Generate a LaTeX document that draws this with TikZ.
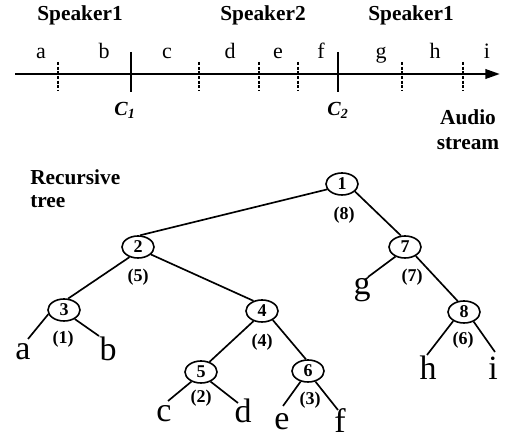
\documentclass[tikz,border=0pt]{standalone}
\usepackage{fontspec}
\setmainfont{Liberation Serif}
\usetikzlibrary{arrows.meta,shapes.geometric}
\begin{document}
\begin{tikzpicture}[x=0.75pt,y=-0.75pt,
  heading/.style={font=\fontsize{16}{19}\selectfont\bfseries, inner sep=0},
  seglabel/.style={font=\fontsize{16.5}{20}\selectfont, inner sep=0, anchor=base},
  cutlabel/.style={font=\fontsize{15}{18}\selectfont\bfseries\itshape, inner sep=0, anchor=base},
  leaf/.style={font=\fontsize{25.5}{30}\selectfont, inner sep=0, text depth=0pt, anchor=base},
  treenode/.style={ellipse, draw, line width=1.2pt, minimum width=24pt,
    minimum height=16.5pt, inner sep=0, font=\fontsize{13.5}{16}\selectfont\bfseries},
  count/.style={font=\fontsize{13.5}{16}\selectfont\bfseries, inner sep=0},
  edge/.style={line width=1.25pt},
  stream/.style={line width=2pt, -{Triangle[length=11pt,width=7pt]}},
  cut/.style={line width=2.2pt},
  boundary/.style={line width=1.5pt, dash pattern=on 2.2pt off 1.3pt}]
\useasboundingbox (0,0) rectangle (511,441);

% ---- audio stream ----
\node[heading, anchor=base] (spk1) at (80,21) {Speaker1};
\node[heading, anchor=base] (spk2) at (263,21) {Speaker2};
\node[heading, anchor=base] (spk3) at (411,21) {Speaker1};

\foreach \x/\t in {41/a,104/b,167/c,230/d,278/e,321/f,381/g,435/h,487/i}
  \node[seglabel] (seg\t) at (\x,59) {\t};

\coordinate (sstart) at (15,74);
\coordinate (send) at (500,74);
\draw[stream] (sstart) -- (send);

% segment boundaries
\foreach \x/\n in {58/1,199/2,259/3,298/4,402/5,463/6}{
  \coordinate (b\n top) at (\x,62);
  \coordinate (b\n bot) at (\x,91);
  \draw[boundary] (b\n top) -- (b\n bot);
}
% speaker change points
\foreach \x/\n in {131/1,338/2}{
  \coordinate (c\n top) at (\x,52);
  \coordinate (c\n bot) at (\x,92);
  \draw[cut] (c\n top) -- (c\n bot);
}
\node[cutlabel] (clab1) at (125,116) {C\textsubscript{1}};
\node[cutlabel] (clab2) at (338,116) {C\textsubscript{2}};

\node[heading, anchor=base] (aud1) at (468,125) {Audio};
\node[heading, anchor=base] (aud2) at (468,150) {stream};

% ---- recursive tree ----
\node[heading, anchor=base west] (rec1) at (30,185) {Recursive};
\node[heading, anchor=base west] (rec2) at (30,208) {tree};

\node[treenode] (n1) at (342,184) {1};
\node[treenode] (n2) at (138,247) {2};
\node[treenode] (n3) at (64,310) {3};
\node[treenode] (n4) at (262,311) {4};
\node[treenode] (n5) at (201,372) {5};
\node[treenode] (n6) at (308,371) {6};
\node[treenode] (n7) at (405,247) {7};
\node[treenode] (n8) at (464,312) {8};

\node[count] (k1) at (344,215) {(8)};
\node[count] (k2) at (138,277) {(5)};
\node[count] (k3) at (63,339) {(1)};
\node[count] (k4) at (262,342) {(4)};
\node[count] (k5) at (201,398) {(2)};
\node[count] (k6) at (310,400) {(3)};
\node[count] (k7) at (412,277) {(7)};
\node[count] (k8) at (463,340) {(6)};

\draw[edge] (n1.200) -- (n2.80);
\draw[edge] (n1.-30) -- (n7.110);
\draw[edge] (n2.230) -- (n3.70);
\draw[edge] (n2.-30) -- (n4.130);
\draw[edge] (n4.230) -- (n5.50);
\draw[edge] (n4.-40) -- (n6.100);
\draw[edge] (n7.-40) -- (n8.120);

% leaves
\node[leaf] (la) at (23,360) {a};
\node[leaf] (lb) at (108,361) {b};
\node[leaf] (lc) at (164,422) {c};
\node[leaf] (ld) at (243,423) {d};
\node[leaf] (le) at (282,430) {e};
\node[leaf] (lf) at (340,433) {f};
\node[leaf] (lg) at (362,295) {g};
\node[leaf] (lh) at (428,380) {h};
\node[leaf] (li) at (493,380) {i};

\coordinate (ea) at (28,339);
\coordinate (eb) at (99,336);
\coordinate (ec) at (168,401);
\coordinate (ed) at (238,403);
\coordinate (ee) at (283,406);
\coordinate (ef) at (338,410);
\coordinate (eg) at (368,277);
\coordinate (eh) at (427,355);
\coordinate (ei) at (495,352);

\draw[edge] (n3.195) -- (ea);
\draw[edge] (n3.-40) -- (eb);
\draw[edge] (n5.225) -- (ec);
\draw[edge] (n5.-45) -- (ed);
\draw[edge] (n6.235) -- (ee);
\draw[edge] (n6.-55) -- (ef);
\draw[edge] (n7.225) -- (eg);
\draw[edge] (n8.220) -- (eh);
\draw[edge] (n8.-45) -- (ei);
\end{tikzpicture}
\end{document}
